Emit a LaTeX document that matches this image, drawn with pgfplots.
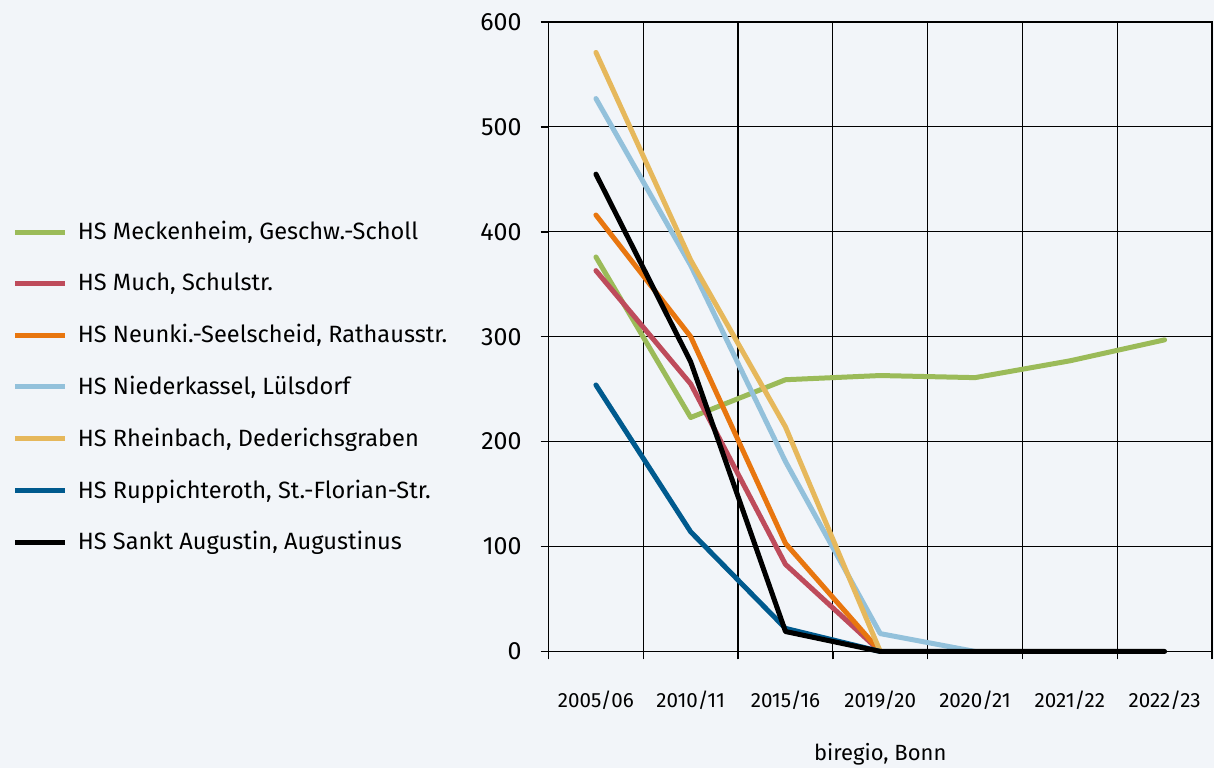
\documentclass[border=0pt]{standalone}
\usepackage{fontspec}
\setmainfont{Fira Sans}
\usepackage{pgfplots}
\pgfplotsset{compat=1.18}

\definecolor{bg}{HTML}{F2F5F9}
\definecolor{cgreen}{HTML}{9BBB59}
\definecolor{cred}{HTML}{BE4B5B}
\definecolor{corange}{HTML}{E8760F}
\definecolor{clblue}{HTML}{93C1DB}
\definecolor{cyellow}{HTML}{E6B85C}
\definecolor{cdblue}{HTML}{005A8E}

\begin{document}
\begin{tikzpicture}
\fill[bg] (-274.5pt,-58.5pt) rectangle (333pt,326pt);
\begin{axis}[
  scale only axis,
  width=332pt, height=315pt,
  at={(0,0)}, anchor=south west,
  clip=false,
  xmin=-0.5, xmax=6.5,
  ymin=0, ymax=600,
  xtick={0,...,6},
  xticklabels={2005/06,2010/11,2015/16,2019/20,2020/21,2021/22,2022/23},
  minor xtick={-0.5,0.5,...,6.5},
  ytick={0,100,...,600},
  major x tick style={draw=none},
  tick pos=left,
  tick align=outside,
  major tick length=4pt, minor tick length=4pt,
  tick style={black, line width=0.7pt},
  xmajorgrids=false, xminorgrids=true, ymajorgrids=true,
  grid style={black, line width=0.6pt},
  minor grid style={black, line width=0.6pt},
  axis line style={black, line width=0.9pt},
  /pgf/number format/assume math mode=true,
  xticklabel style={font=\fontsize{10.3}{12}\selectfont, yshift=-12pt},
  yticklabel style={font=\fontsize{12.5}{14}\selectfont, xshift=-6pt},
  xlabel={biregio, Bonn},
  xlabel style={font=\fontsize{11}{13}\selectfont, yshift=-10pt},
  legend cell align=left,
  legend style={draw=none, fill=none, at={(axis description cs:-0.808,0.69)}, anchor=north west,
    font=\fontsize{11.8}{14}\selectfont, row sep=11.2pt, inner sep=0pt},
  legend image code/.code={\draw[#1, line width=2.5pt, line cap=butt] (0pt,0pt) -- (25pt,0pt);},
  every axis plot/.append style={line width=2.5pt, line cap=round, line join=round, mark=none},
]
\addplot[cgreen] coordinates {(0,376)(1,223)(2,259)(3,263)(4,261)(5,277)(6,297)};
\addlegendentry{\hspace{3pt}HS Meckenheim, Geschw.-Scholl}
\addplot[cred] coordinates {(0,363)(1,255)(2,83)(3,0)};
\addlegendentry{\hspace{3pt}HS Much, Schulstr.}
\addplot[corange] coordinates {(0,416)(1,300)(2,103)(3,0)};
\addlegendentry{\hspace{3pt}HS Neunki.-Seelscheid, Rathausstr.}
\addplot[clblue] coordinates {(0,527)(1,368)(2,181)(3,17)(4,0)};
\addlegendentry{\hspace{3pt}HS Niederkassel, Lülsdorf}
\addplot[cyellow] coordinates {(0,571)(1,373)(2,214)(3,0)};
\addlegendentry{\hspace{3pt}HS Rheinbach, Dederichsgraben}
\addplot[cdblue] coordinates {(0,254)(1,114)(2,22)(3,0)};
\addlegendentry{\hspace{3pt}HS Ruppichteroth, St.-Florian-Str.}
\addplot[black] coordinates {(0,455)(1,276)(2,19)(3,0)(4,0)(5,0)(6,0)};
\addlegendentry{\hspace{3pt}HS Sankt Augustin, Augustinus}
\end{axis}
\pgfresetboundingbox
\path (-274.5pt,-58.5pt) rectangle (333pt,326pt);
\end{tikzpicture}
\end{document}
